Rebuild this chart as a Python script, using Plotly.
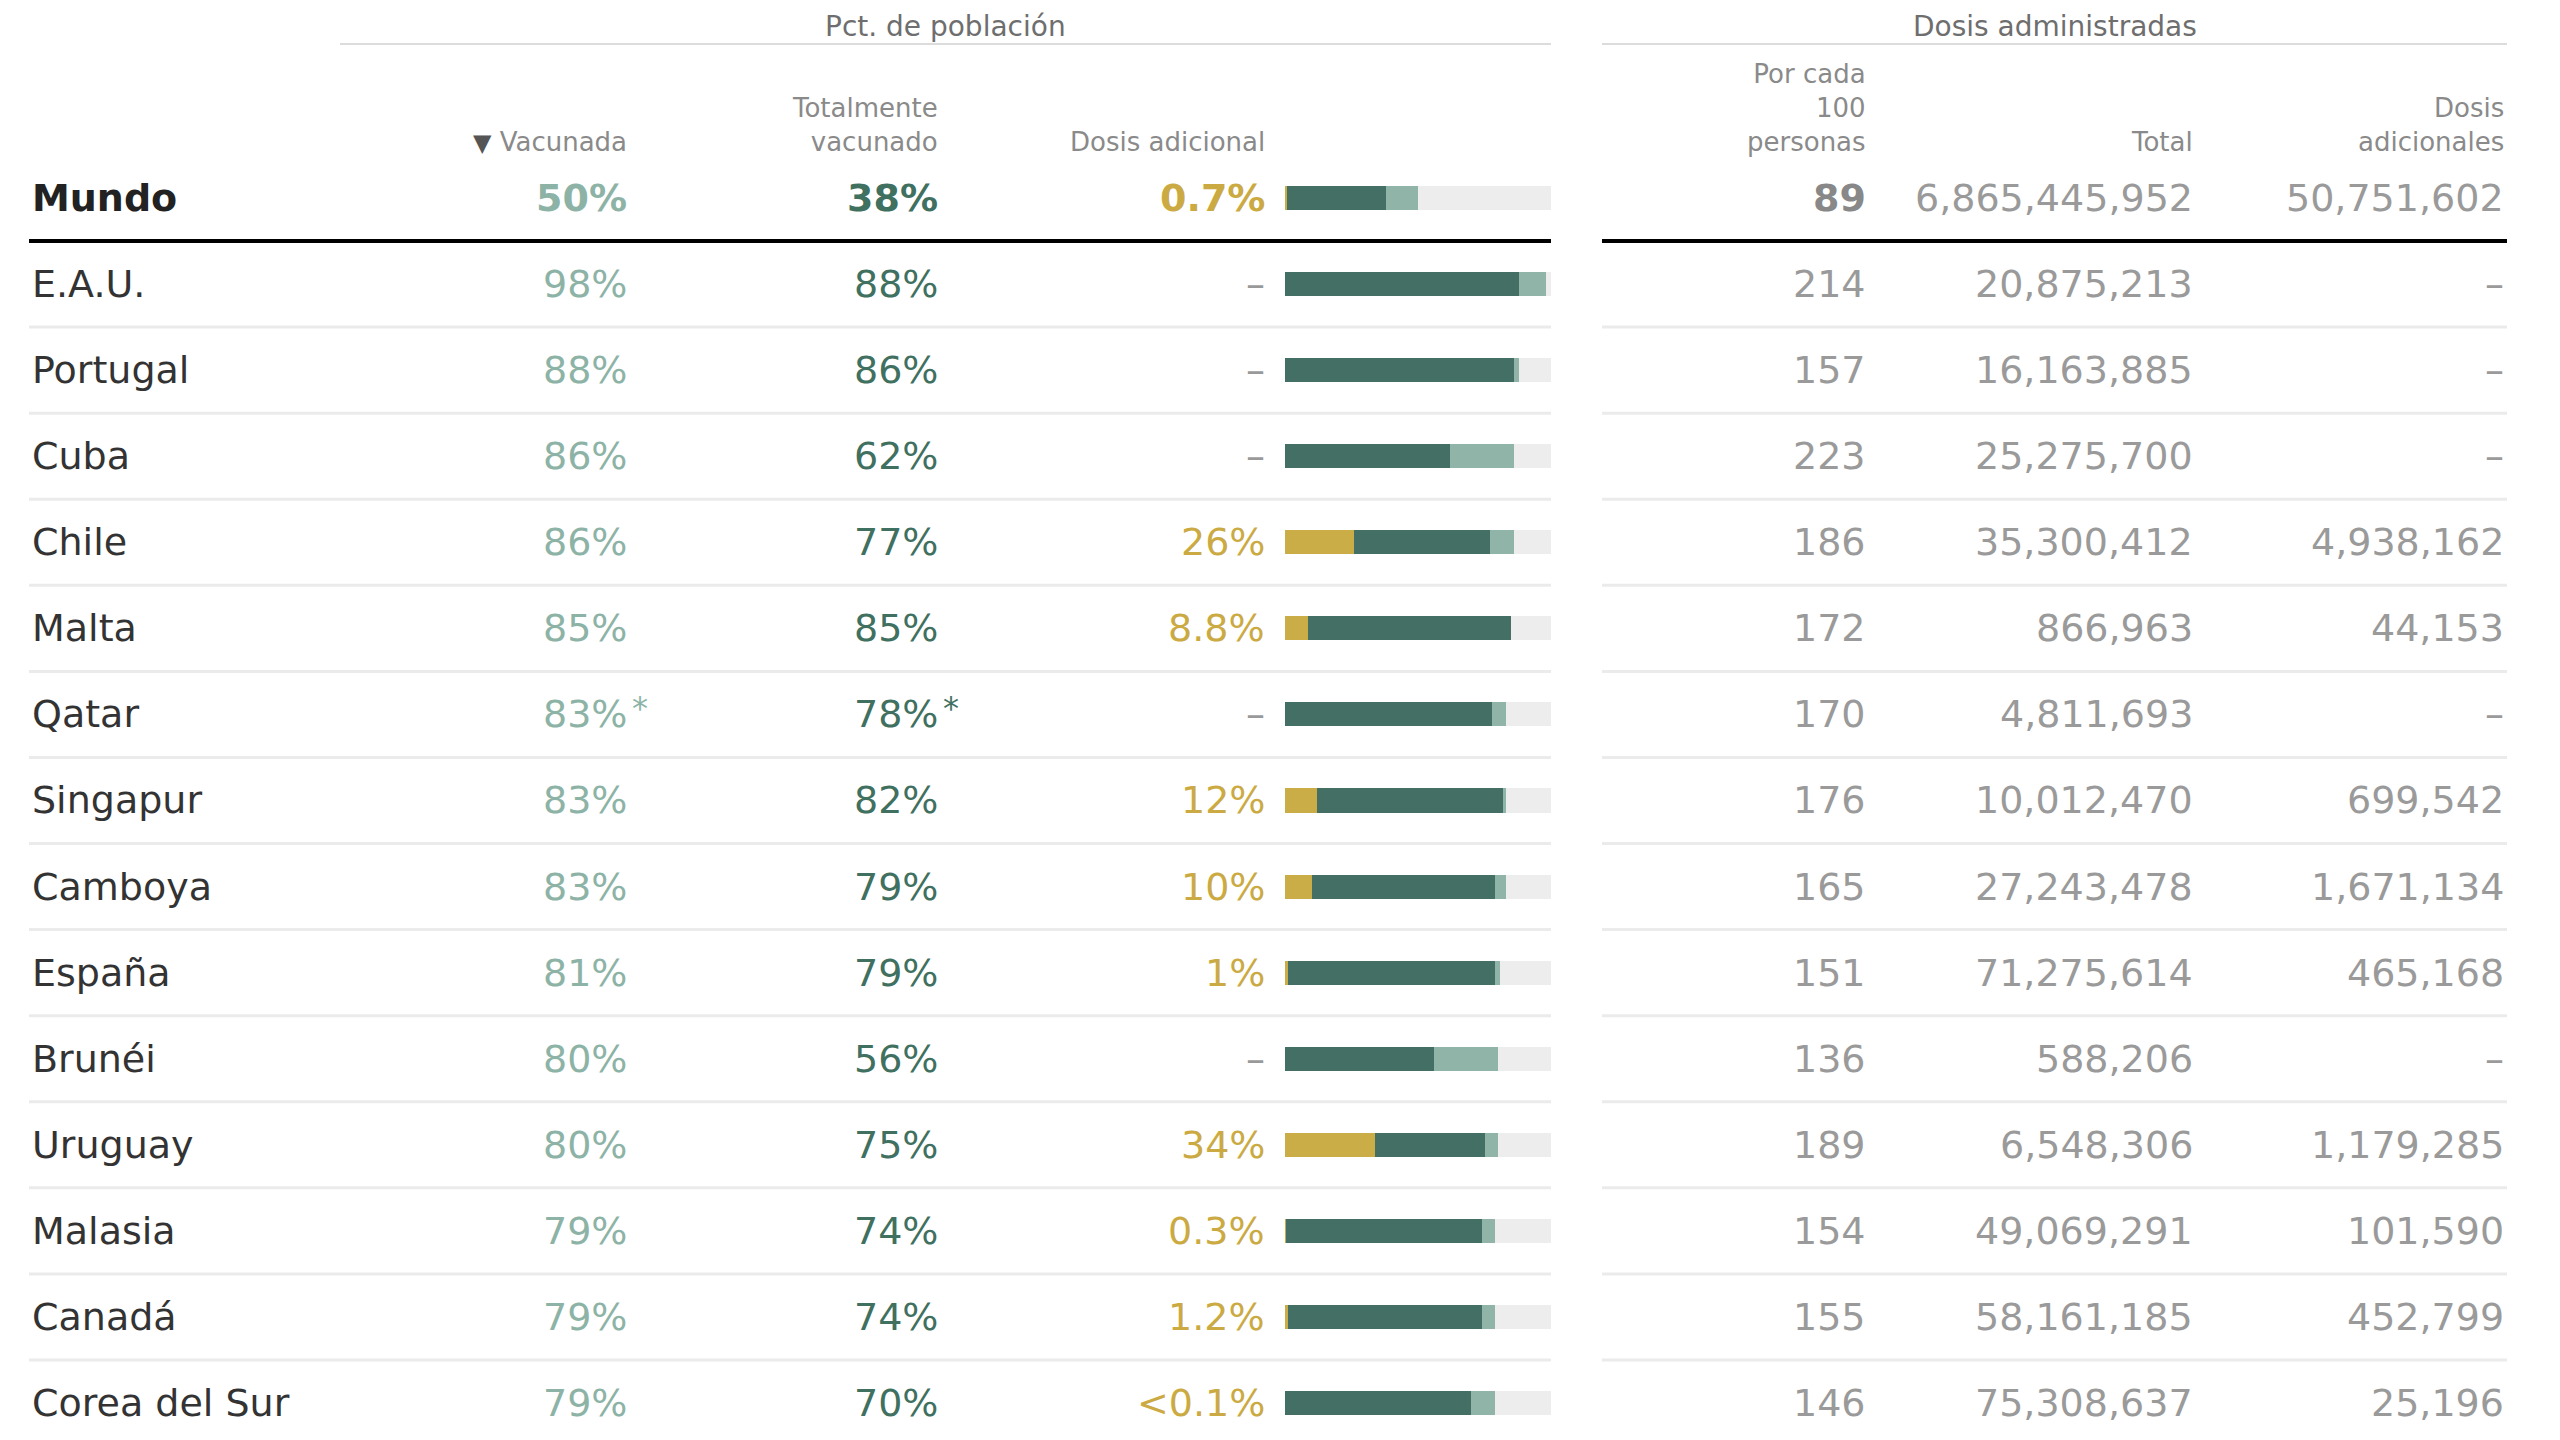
import plotly.graph_objects as go

# ── datos ─────────────────────────────────────────────
paises = ["Mundo", "E.A.U.", "Portugal", "Cuba", "Chile", "Malta", "Qatar", "Singapur",
          "Camboya", "España", "Brunéi", "Uruguay", "Malasia", "Canadá", "Corea del Sur"]
vacunada = [50, 98, 88, 86, 86, 85, 83, 83, 83, 81, 80, 80, 79, 79, 79]
completo = [38, 88, 86, 62, 77, 85, 78, 82, 79, 79, 56, 75, 74, 74, 70]
adicional = [0.7, None, None, None, 26, 8.8, None, 12, 10, 1, None, 34, 0.3, 1.2, 0.05]
nota = ["", "", "", "", "", "", "*", "", "", "", "", "", "", "", ""]
por_100 = [89, 214, 157, 223, 186, 172, 170, 176, 165, 151, 136, 189, 154, 155, 146]
total = [6865445952, 20875213, 16163885, 25275700, 35300412, 866963, 4811693, 10012470,
         27243478, 71275614, 588206, 6548306, 49069291, 58161185, 75308637]
dosis_adic = [50751602, None, None, None, 4938162, 44153, None, 699542, 1671134, 465168,
              None, 1179285, 101590, 452799, 25196]

# ── estilo ────────────────────────────────────────────
FONT = "DejaVu Sans"
C_OSCURO = "#436f64"
C_CLARO = "#91b4a9"
C_ORO = "#cbad48"
C_GRIS = "#ededed"
C_TXT_VAC = "#8db3a6"
C_TXT_COMP = "#3f7060"
C_TXT_ADIC = "#cbaa43"
C_NUM = "#9a9a9a"

OFF = 8                           # margen por defecto del <body> en la página
W, H = 2560 - OFF, 1440 - OFF
ROW0, PITCH = 198 - OFF, 86.07    # píxeles: centro de la fila 0 y paso entre filas
# columnas (px de la página, borde derecho salvo nombre)
X_NOMBRE, X_VAC, X_COMP, X_ADIC = 30, 629, 940, 1267
BAR_X0, BAR_X1 = 1285, 1551
X_P100, X_TOTAL, X_DADIC = 1868, 2195, 2506
IZQ = (29, 1551)
DER = (1602, 2507)
X_GRUPO0 = 340


def px(x):
    return x - OFF


def pct(v):
    if v is None:
        return "–"
    if v < 0.1:
        return "<0.1%"
    return f"{v:g}%"


def num(v):
    return "–" if v is None else f"{v:,}"


def ypap(y):
    return 1 - (y - OFF) / H


seg_adic = [a or 0 for a in adicional]
seg_comp = [c - s for c, s in zip(completo, seg_adic)]
seg_vac = [v - c for v, c in zip(vacunada, completo)]
seg_resto = [100 - v for v in vacunada]

fig = go.Figure()
# traza invisible para registrar las categorías del eje y
fig.add_trace(go.Scatter(x=[None] * len(paises), y=paises, mode="markers",
                         showlegend=False, hoverinfo="skip", xaxis="x", yaxis="y"))
for vals, col in [(seg_adic, C_ORO), (seg_comp, C_OSCURO), (seg_vac, C_CLARO), (seg_resto, C_GRIS)]:
    fig.add_trace(go.Bar(
        y=paises, x=vals, orientation="h", marker=dict(color=col, line=dict(width=0)),
        width=0.279, xaxis="x2", yaxis="y", showlegend=False, hoverinfo="skip",
    ))

ann = []


def txt(x, y, text, color, size=38, anchor="right", bold=False, yref="y", yshift=0,
        yanchor="middle"):
    if bold:
        text = f"<b>{text}</b>"
    ann.append(dict(x=px(x), y=y, xref="x", yref=yref, text=text, showarrow=False,
                    xanchor=anchor, yanchor=yanchor, yshift=yshift, align="right",
                    font=dict(family=FONT, size=size, color=color)))


for i, p in enumerate(paises):
    b = i == 0
    txt(X_NOMBRE, p, p, "#222" if b else "#333", anchor="left", bold=b)
    txt(X_VAC, p, f"{vacunada[i]}%", C_TXT_VAC, bold=b)
    txt(X_COMP, p, f"{completo[i]}%", C_TXT_COMP, bold=b)
    if nota[i]:
        txt(X_VAC + 1, p, nota[i], C_TXT_VAC, size=32, anchor="left", yshift=6)
        txt(X_COMP + 1, p, nota[i], C_TXT_COMP, size=32, anchor="left", yshift=6)
    a = adicional[i]
    txt(X_ADIC, p, pct(a), C_TXT_ADIC if a is not None else "#999", bold=b and a is not None)
    txt(X_P100, p, str(por_100[i]), "#888" if b else C_NUM, bold=b)
    txt(X_TOTAL, p, num(total[i]), C_NUM)
    txt(X_DADIC, p, num(dosis_adic[i]), C_NUM)

# encabezados
GRP, HDR = "#6e6e6e", "#8a8a8a"
for x0, x1, titulo in [(X_GRUPO0, IZQ[1], "Pct. de población"), (DER[0], DER[1], "Dosis administradas")]:
    txt((x0 + x1) / 2, 1, titulo, GRP, size=28, anchor="center", yref="paper", yanchor="top")
encabezados = [
    (X_VAC, ["<span style='font-size:24px;color:#555'>▼</span> Vacunada"]),
    (X_COMP, ["Totalmente", "vacunado"]),
    (X_ADIC, ["Dosis adicional"]),
    (X_P100, ["Por cada", "100", "personas"]),
    (X_TOTAL, ["Total"]),
    (X_DADIC, ["Dosis", "adicionales"]),
]
HDR_SIZE = 26
for x, lineas in encabezados:
    centro = 142 - (len(lineas) - 1) * 1.3 * HDR_SIZE / 2
    txt(x, ypap(centro), "<br>".join(lineas), HDR, size=HDR_SIZE, yref="paper")

# líneas
shapes = []
for x0, x1 in [(X_GRUPO0, IZQ[1]), DER]:
    shapes.append(dict(type="line", xref="x", yref="paper", x0=px(x0), x1=px(x1),
                       y0=ypap(44), y1=ypap(44), line=dict(color="#dcdcdc", width=2)))
for x0, x1 in [IZQ, DER]:
    shapes.append(dict(type="line", xref="x", yref="y", x0=px(x0), x1=px(x1), y0=0.5, y1=0.5,
                       line=dict(color="#000", width=4)))
    for i in range(1, len(paises) - 1):
        shapes.append(dict(type="line", xref="x", yref="y", x0=px(x0), x1=px(x1),
                           y0=i + 0.5, y1=i + 0.5, line=dict(color="#ebebeb", width=3)))

fig.update_layout(
    width=W, height=H,
    margin=dict(l=0, r=0, t=0, b=0),
    paper_bgcolor="white", plot_bgcolor="white",
    barmode="stack", bargap=0,
    xaxis=dict(range=[0, W], domain=[0, 1], visible=False, fixedrange=True),
    xaxis2=dict(range=[0, 100], domain=[px(BAR_X0) / W, px(BAR_X1) / W], anchor="y",
                visible=False, fixedrange=True),
    yaxis=dict(type="category", categoryorder="array", categoryarray=paises,
               range=[(H - ROW0) / PITCH, -ROW0 / PITCH], visible=False, fixedrange=True),
    annotations=ann,
    shapes=shapes,
    showlegend=False,
)

fig.write_html("out.html")
